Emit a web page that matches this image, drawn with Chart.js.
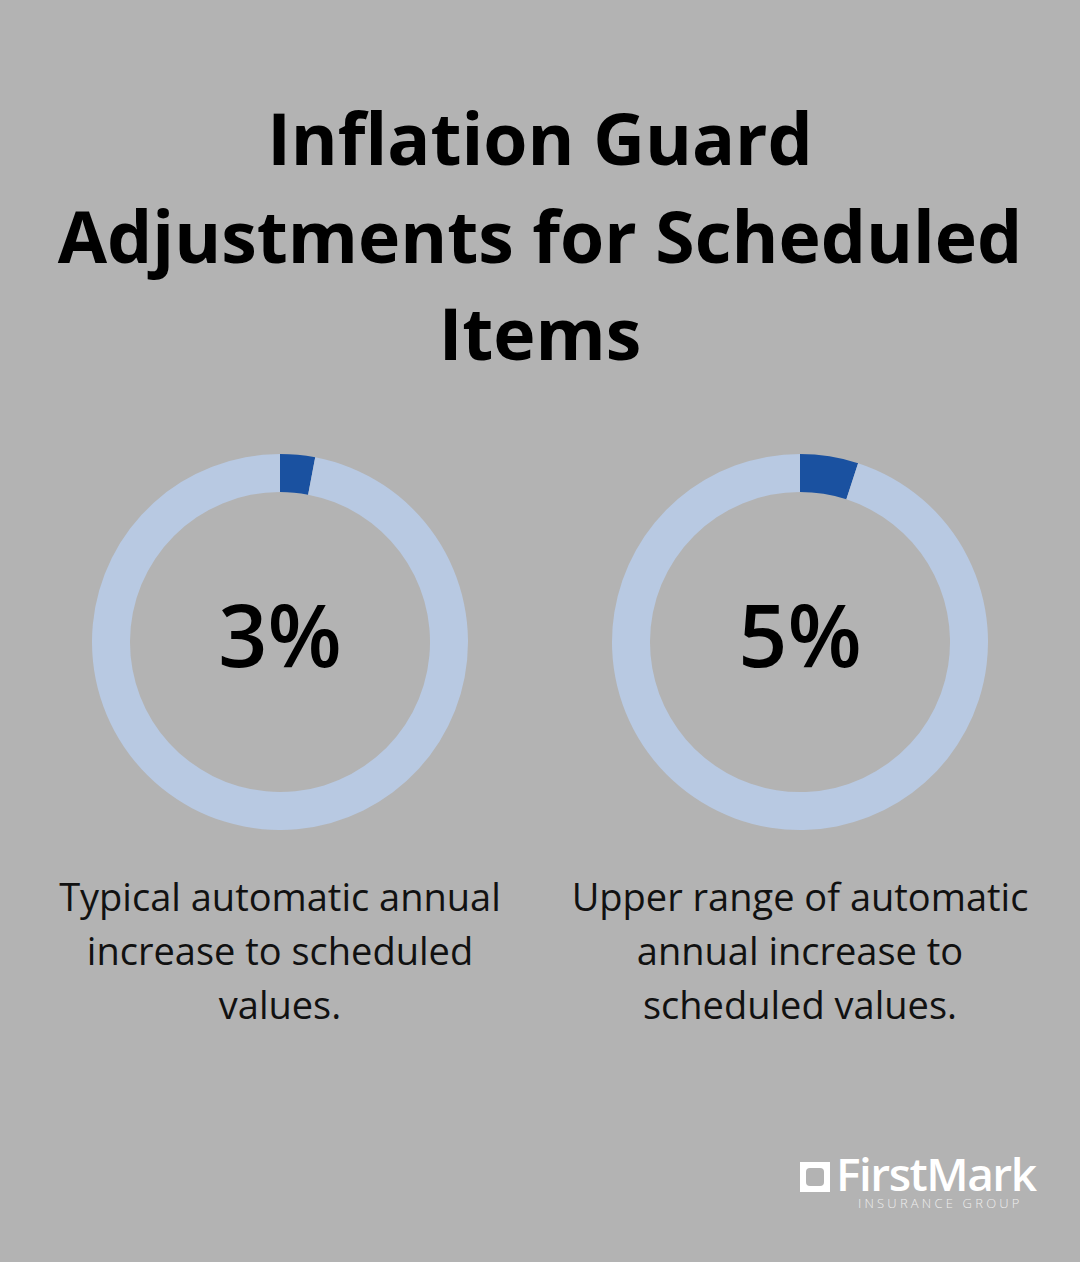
<!DOCTYPE html>
<html>
<head>
<meta charset="utf-8">
<script src="https://cdn.jsdelivr.net/npm/chart.js@4.4.1/dist/chart.umd.min.js"></script>
<style>
  html, body { margin: 0; padding: 0; }
  body {
    width: 1080px; height: 1262px; background: #b3b3b3;
    font-family: "Open Sans", sans-serif; position: relative; overflow: hidden;
  }
  h1 {
    position: absolute; left: 0; top: 89px; width: 1080px; margin: 0;
    text-align: center; font-size: 71.5px; font-weight: 700; line-height: 97.5px;
    color: #000;
  }
  .donut { position: absolute; width: 376px; height: 376px; }
  .pct {
    position: absolute; width: 376px; text-align: center;
    font-size: 86px; font-weight: 600; color: #000; line-height: 1;
  }
  .desc {
    position: absolute; width: 480px; text-align: center;
    font-size: 38px; line-height: 54px; color: #111; font-weight: 400;
  }
  .logo { position: absolute; left: 800px; top: 1150px; color: #fff; }
  .logo .mark { font-size: 46px; font-weight: 600; line-height: 46px; letter-spacing: -1.5px; white-space: nowrap; }
  .logo .box { display: inline-block; width: 30px; height: 30px; background: #fff; position: relative; top: 1px; margin-right: 6px; }
  .logo .box::after { content: ""; position: absolute; left: 6px; top: 6px; width: 18px; height: 18px; background: #b3b3b3; border-radius: 4px; }
  .logo .sub { font-size: 13px; letter-spacing: 3.2px; margin-left: 58px; color: #eee; line-height: 14px; font-weight: 300; white-space: nowrap; }
</style>
</head>
<body>
<h1>Inflation Guard<br>Adjustments for Scheduled<br>Items</h1>

<div class="logo">
  <div class="mark"><span class="box"></span>FirstMark</div>
  <div class="sub">INSURANCE GROUP</div>
</div>

<script>
  const percentValues = [3, 5];
  const percentLabels = ["3%", "5%"];
  const descriptions = [
    "Typical automatic annual<br>increase to scheduled<br>values.",
    "Upper range of automatic<br>annual increase to<br>scheduled values."
  ];
  const centersX = [280, 800];
  const centerY = 642;

  const filledColor = "#1a51a0";
  const trackColor = "#b8c9e2";

  percentValues.forEach((value, i) => {
    const cx = centersX[i];

    const canvas = document.createElement("canvas");
    canvas.className = "donut";
    canvas.width = 376;
    canvas.height = 376;
    canvas.style.left = (cx - 188) + "px";
    canvas.style.top = (centerY - 188) + "px";
    document.body.appendChild(canvas);

    const pct = document.createElement("div");
    pct.className = "pct";
    pct.textContent = percentLabels[i];
    pct.style.left = (cx - 188) + "px";
    pct.style.top = (centerY - 51) + "px";
    document.body.appendChild(pct);

    const desc = document.createElement("div");
    desc.className = "desc";
    desc.innerHTML = descriptions[i];
    desc.style.left = (cx - 240) + "px";
    desc.style.top = "869px";
    document.body.appendChild(desc);

    new Chart(canvas.getContext("2d"), {
      type: "doughnut",
      data: {
        labels: ["Increase", "Rest"],
        datasets: [{
          data: [value, 100 - value],
          backgroundColor: [filledColor, trackColor],
          borderWidth: 0,
        }],
      },
      options: {
        responsive: false,
        animation: false,
        cutout: "79.8%",
        layout: { padding: 0 },
        plugins: { legend: { display: false }, tooltip: { enabled: false } },
      },
    });
  });
</script>
</body>
</html>
